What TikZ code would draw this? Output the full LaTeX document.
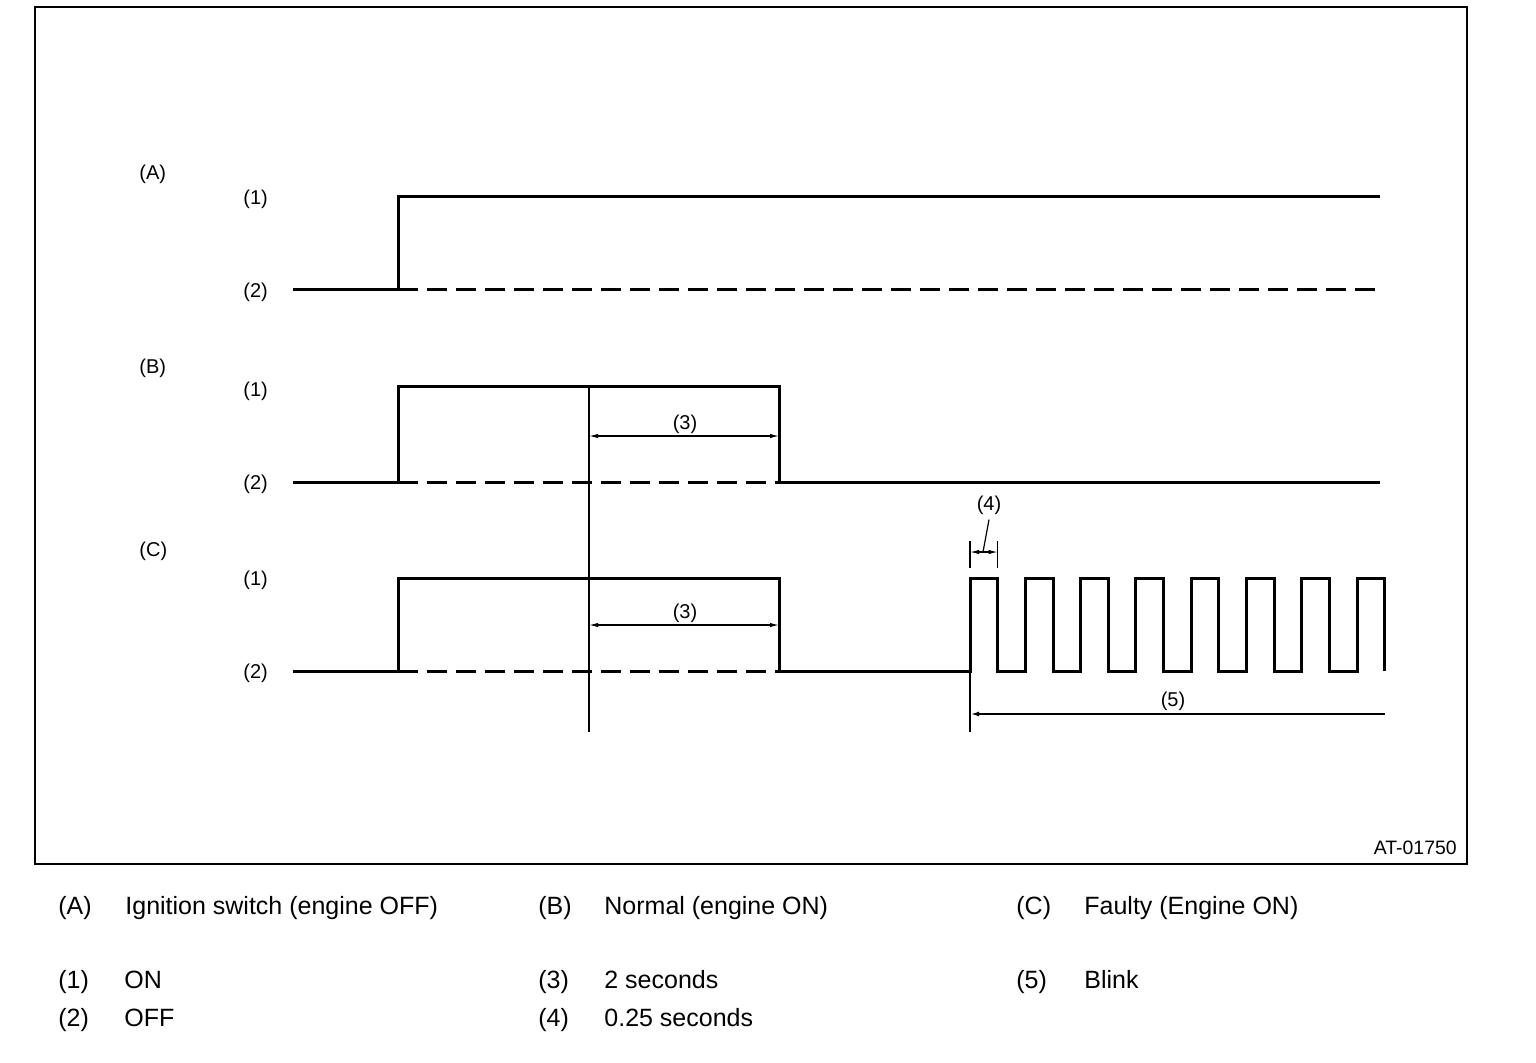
\documentclass[tikz,border=0pt]{standalone}
\usepackage{fontspec}
\setmainfont{Liberation Sans}
\usetikzlibrary{arrows.meta}
\begin{document}
\begin{tikzpicture}[x=0.5pt,y=-0.5pt,
  wave/.style={line width=1.5pt, line join=miter},
  offline/.style={line width=1.5pt, dash pattern=on 10pt off 4.5pt},
  thinline/.style={line width=0.6pt},
  dimarrow/.style={line width=0.6pt, {Latex[length=4.5pt,width=2.2pt]}-{Latex[length=4.5pt,width=2.2pt]}},
  leftarrow/.style={line width=1pt, {Latex[length=4.5pt,width=2.4pt]}-},
  lbl/.style={font=\fontsize{10}{12}\selectfont, inner sep=0pt, anchor=base west},
  clbl/.style={font=\fontsize{10}{12}\selectfont, inner sep=0pt, anchor=base},
  leg/.style={font=\fontsize{12.5}{15}\selectfont, inner sep=0pt, anchor=base west}]
\useasboundingbox (0,0) rectangle (1536,1062);
\draw[line width=1pt] (35,7) rectangle (1467,864);

% ---- row labels
\node[lbl] (A) at (139,179) {(A)};
\node[lbl] (A1) at (243,204) {(1)};
\node[lbl] (A2) at (243,297) {(2)};
\node[lbl] (B) at (139,373) {(B)};
\node[lbl] (B1) at (243,396) {(1)};
\node[lbl] (B2) at (243,489) {(2)};
\node[lbl] (C) at (139,556) {(C)};
\node[lbl] (C1) at (243,585) {(1)};
\node[lbl] (C2) at (243,678) {(2)};

% ---- waveform A
\draw[wave] (293,289) -- (398,289) -- (398,196) -- (1380,196);
\draw[offline] (398,289) -- (1380,289);

% ---- waveform B
\draw[wave] (293,482) -- (398,482) -- (398,386) -- (779,386) -- (779,482) -- (1380,482);
\draw[offline] (398,482) -- (779,482);

% ---- waveform C
\draw[wave] (293,671) -- (398,671) -- (398,578) -- (779,578) -- (779,671) -- (970,671)
  -- (970,578) -- (997.7,578) -- (997.7,671)
  -- (1025.3,671) -- (1025.3,578) -- (1053,578) -- (1053,671)
  -- (1080.6,671) -- (1080.6,578) -- (1108.3,578) -- (1108.3,671)
  -- (1135.9,671) -- (1135.9,578) -- (1163.6,578) -- (1163.6,671)
  -- (1191.2,671) -- (1191.2,578) -- (1218.9,578) -- (1218.9,671)
  -- (1246.5,671) -- (1246.5,578) -- (1274.2,578) -- (1274.2,671)
  -- (1301.8,671) -- (1301.8,578) -- (1329.5,578) -- (1329.5,671)
  -- (1357.1,671) -- (1357.1,578) -- (1384.8,578) -- (1384.8,671);
\draw[offline] (398,671) -- (779,671);

% ---- (3) dimensions
\coordinate (v3top) at (589,386);
\coordinate (v3bot) at (589,732);
\draw[thinline] (v3top) -- (v3bot);
\coordinate (d3a) at (589,436); \coordinate (d3b) at (779,436);
\draw[dimarrow] (d3a) -- (d3b);
\node[clbl] (L3a) at (685,429) {(3)};
\coordinate (d3c) at (589,625); \coordinate (d3d) at (779,625);
\draw[dimarrow] (d3c) -- (d3d);
\node[clbl] (L3b) at (685,618) {(3)};

% ---- (4) dimension
\coordinate (t4a) at (970,541); \coordinate (t4b) at (970,568);
\coordinate (t4c) at (997.7,541); \coordinate (t4d) at (997.7,568);
\draw[thinline] (t4a) -- (t4b);
\draw[thinline] (t4c) -- (t4d);
\coordinate (d4a) at (970,552); \coordinate (d4b) at (997.7,552);
\draw[dimarrow] (d4a) -- (d4b);
\node[clbl] (L4) at (989,510) {(4)};
\coordinate (d4m) at (983,552);
\draw[thinline] (L4.south) ++(0,5) -- (d4m);

% ---- (5) dimension
\coordinate (t5a) at (970,671); \coordinate (t5b) at (970,732);
\draw[thinline] (t5a) -- (t5b);
\coordinate (d5a) at (970,714); \coordinate (d5b) at (1385,714);
\draw[leftarrow] (d5a) -- (d5b);
\node[clbl] (L5) at (1173,706) {(5)};

% ---- figure id
\node[font=\fontsize{9.7}{12}\selectfont, inner sep=0pt, anchor=base east] (id) at (1457,854) {AT-01750};

% ---- legend
\node[leg] (kA) at (58,914) {(A)};
\node[leg] (tA) at (125,914) {Ignition switch (engine OFF)};
\node[leg] (kB) at (538,914) {(B)};
\node[leg] (tB) at (604,914) {Normal (engine ON)};
\node[leg] (kC) at (1016,914) {(C)};
\node[leg] (tC) at (1084,914) {Faulty (Engine ON)};
\node[leg] (k1) at (58,988) {(1)};
\node[leg] (t1) at (124,988) {ON};
\node[leg] (k2) at (58,1026) {(2)};
\node[leg] (t2) at (124,1026) {OFF};
\node[leg] (k3) at (538,988) {(3)};
\node[leg] (t3) at (604,988) {2 seconds};
\node[leg] (k4) at (538,1026) {(4)};
\node[leg] (t4) at (604,1026) {0.25 seconds};
\node[leg] (k5) at (1016,988) {(5)};
\node[leg] (t5) at (1084,988) {Blink};
\end{tikzpicture}
\end{document}
